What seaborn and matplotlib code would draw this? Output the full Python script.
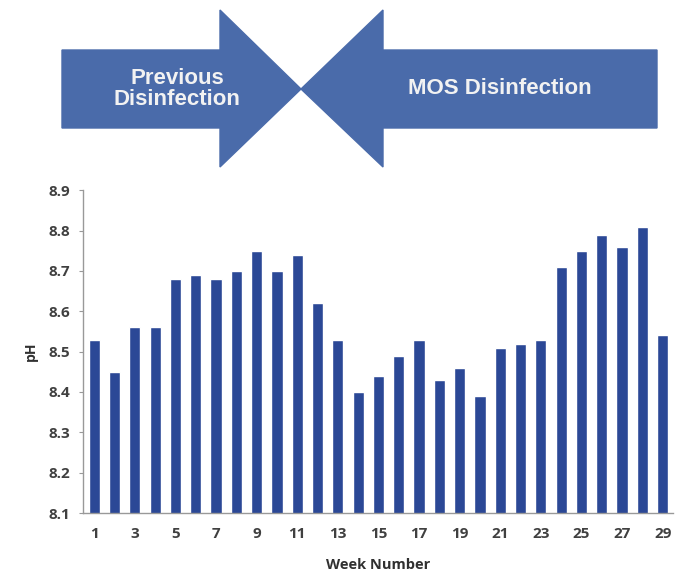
import numpy as np
import pandas as pd
import matplotlib
matplotlib.use("Agg")
import matplotlib.pyplot as plt
from matplotlib.patches import Polygon
import seaborn as sns

# Weekly pH readings
weeks = list(range(1, 30))
ph = [8.53, 8.45, 8.56, 8.56, 8.68, 8.69, 8.68, 8.70, 8.75, 8.70,
      8.74, 8.62, 8.53, 8.40, 8.44, 8.49, 8.53, 8.43, 8.46, 8.39,
      8.51, 8.52, 8.53, 8.71, 8.75, 8.79, 8.76, 8.81, 8.54]
y_ticks = [8.1, 8.2, 8.3, 8.4, 8.5, 8.6, 8.7, 8.8, 8.9]
arrow_labels = ["Previous\nDisinfection", "MOS Disinfection"]

df = pd.DataFrame({"Week": weeks, "pH": ph})

sns.set_style("white")
plt.rcParams["font.family"] = ["Open Sans", "DejaVu Sans"]

fig = plt.figure(figsize=(6.81, 5.80), dpi=100)
ax = fig.add_axes([0.122, 0.1155, 0.866, 0.5565])

sns.barplot(data=df, x="Week", y="pH", color="#2B4896", width=0.55,
            saturation=1, ax=ax)

ax.set_ylim(8.1, 8.9)
ax.set_yticks(y_ticks)
ax.set_yticklabels([f"{v:.1f}" for v in y_ticks], fontsize=11, color="#404040",
                   fontweight="bold")
ax.set_xlim(-0.55, 28.5)
ax.set_xticks(range(len(weeks)))
ax.set_xticklabels([str(w) if w % 2 == 1 else "" for w in weeks],
                   fontsize=11, color="#404040", fontweight="bold")
ax.set_xticks(np.arange(-0.5, len(weeks), 1.0), minor=True)
ax.tick_params(axis="x", which="major", length=0, pad=10)
ax.tick_params(axis="x", which="minor", length=3, color="#999999", direction="out")
ax.tick_params(axis="y", length=3, color="#999999", direction="out", left=True, pad=6)

ax.set_xlabel("Week Number", fontsize=10.5, fontweight="bold", color="#303030", labelpad=12)
ax.set_ylabel("pH", fontsize=10, fontweight="bold", color="#303030", labelpad=8)

sns.despine(ax=ax)
for side in ["left", "bottom"]:
    ax.spines[side].set_color("#999999")
    ax.spines[side].set_linewidth(1)

# Arrow banner drawn in pixel space on an overlay axes
ov = fig.add_axes([0, 0, 1, 1], zorder=-1)
ov.set_xlim(0, 681)
ov.set_ylim(580, 0)
ov.axis("off")
arrow_color = "#4A6BAA"
left_arrow = [(62, 50), (220, 50), (220, 10), (301, 89), (220, 167),
              (220, 128), (62, 128)]
right_arrow = [(657, 50), (383, 50), (383, 10), (301, 89), (383, 167),
               (383, 128), (657, 128)]
ov.add_patch(Polygon(left_arrow, closed=True, color=arrow_color))
ov.add_patch(Polygon(right_arrow, closed=True, color=arrow_color))
ov.text(177, 89, arrow_labels[0], color="#F2F2F2", fontsize=16, fontweight="bold",
        ha="center", va="center", family=["Liberation Sans", "DejaVu Sans"],
        linespacing=1.05)
ov.text(500, 88, arrow_labels[1], color="#F2F2F2", fontsize=16, fontweight="bold",
        ha="center", va="center", family=["Liberation Sans", "DejaVu Sans"])

fig.savefig("out.png", dpi=100)
